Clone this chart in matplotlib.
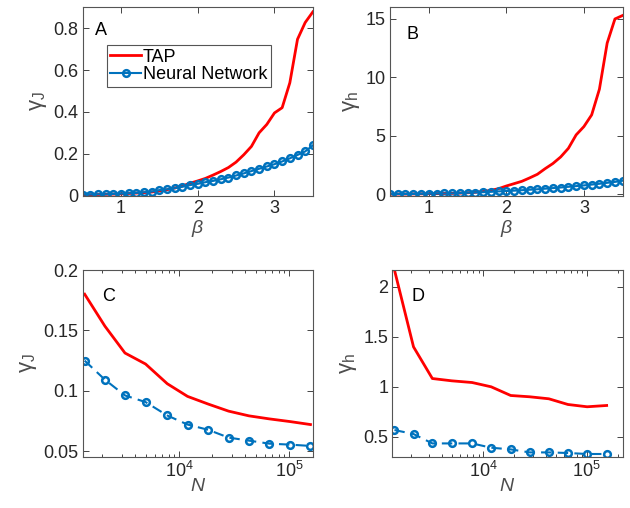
import numpy as np
import matplotlib
matplotlib.use('Agg')
import matplotlib.pyplot as plt
from matplotlib.ticker import LogLocator, NullFormatter

plt.rcParams['font.family'] = ['Liberation Sans', 'DejaVu Sans']
plt.rcParams['mathtext.fontset'] = 'custom'
plt.rcParams['mathtext.rm'] = 'Liberation Sans'
plt.rcParams['mathtext.it'] = 'Liberation Sans:italic'
plt.rcParams['mathtext.bf'] = 'Liberation Sans:bold'

# beta sweep (panels A, B)
beta = [0.5, 0.6, 0.7, 0.8, 0.9, 1.0, 1.1, 1.2, 1.3, 1.4, 1.5, 1.6, 1.7, 1.8, 1.9, 2.0,
        2.1, 2.2, 2.3, 2.4, 2.5, 2.6, 2.7, 2.8, 2.9, 3.0, 3.1, 3.2, 3.3, 3.4, 3.5]
tapJ_beta = [0.003, 0.004, 0.005, 0.006, 0.007, 0.008, 0.010, 0.012, 0.014, 0.017, 0.022,
             0.028, 0.036, 0.046, 0.059, 0.070, 0.082, 0.098, 0.115, 0.134, 0.160, 0.195,
             0.235, 0.300, 0.340, 0.395, 0.420, 0.539, 0.747, 0.827, 0.878]
nnJ_beta = [0.005, 0.005, 0.006, 0.006, 0.008, 0.009, 0.011, 0.013, 0.016, 0.019, 0.026,
            0.030, 0.035, 0.042, 0.050, 0.056, 0.064, 0.070, 0.078, 0.086, 0.096, 0.106,
            0.117, 0.128, 0.139, 0.150, 0.163, 0.178, 0.194, 0.211, 0.240]
tapH_beta = [0.02, 0.03, 0.03, 0.04, 0.05, 0.06, 0.07, 0.08, 0.09, 0.11, 0.14, 0.18, 0.25,
             0.35, 0.49, 0.72, 0.92, 1.12, 1.41, 1.72, 2.2, 2.64, 3.2, 3.94, 5.09, 5.8, 6.8,
             9.0, 12.94, 15.0, 15.3]
nnH_beta = [0.02, 0.03, 0.03, 0.04, 0.05, 0.06, 0.07, 0.08, 0.09, 0.11, 0.14, 0.16, 0.19,
            0.22, 0.26, 0.29, 0.32, 0.36, 0.40, 0.44, 0.49, 0.54, 0.59, 0.65, 0.71, 0.77,
            0.84, 0.91, 0.99, 1.07, 1.17]

# system size sweep (panels C, D)
N = [1380, 2110, 3210, 4940, 7780, 11900, 18400, 28100, 43000, 65800, 101000, 156000]
tapJ_N = [0.180, 0.1535, 0.1313, 0.1222, 0.1059, 0.0954, 0.089, 0.0832, 0.0793, 0.0768,
          0.0746, 0.0721]
nnJ_N = [0.125, 0.1092, 0.0962, 0.0907, 0.0796, 0.0721, 0.0677, 0.0613, 0.0588, 0.0563,
         0.0555, 0.0544]
tapH_N = [2.17, 1.40, 1.083, 1.06, 1.043, 1.0, 0.913, 0.90, 0.88, 0.823, 0.80, 0.813]
nnH_N = [0.567, 0.527, 0.433, 0.433, 0.433, 0.39, 0.373, 0.343, 0.343, 0.337, 0.327, 0.327]

red = '#FF0000'
blue = '#0072BD'
txt = '#262626'
lab = '#4d4d4d'
fs = 13

fig = plt.figure(figsize=(6.3, 5.08), dpi=100)
axA = fig.add_axes([0.131, 0.615, 0.3656, 0.3707])
axB = fig.add_axes([0.619, 0.615, 0.3694, 0.3707])
axC = fig.add_axes([0.131, 0.101, 0.3656, 0.3675])
axD = fig.add_axes([0.6227, 0.101, 0.3657, 0.3675])

mk = dict(marker='o', markersize=4.8, markeredgewidth=1.8, markerfacecolor='none')

axA.plot(beta, tapJ_beta, color=red, lw=2, label='TAP')
axA.plot(beta, nnJ_beta, color=blue, lw=1.5, label='Neural Network', **mk)
axB.plot(beta, tapH_beta, color=red, lw=2)
axB.plot(beta, nnH_beta, color=blue, lw=1.5, **mk)
axC.plot(N, tapJ_N, color=red, lw=2)
axC.plot(N, nnJ_N, color=blue, lw=1.5, ls='--', dashes=(5, 3), **mk)
axD.plot(N, tapH_N, color=red, lw=2)
axD.plot(N, nnH_N, color=blue, lw=1.5, ls='--', dashes=(5, 3), **mk)

for ax in [axA, axB]:
    ax.set_xlim(0.5, 3.5)
    ax.set_xticks([1, 2, 3])
    ax.set_xticklabels(['1', '2', '3'])
    ax.set_xlabel(r'$\beta$', fontsize=fs + 1, color=lab, labelpad=1)

axA.set_ylim(0, 0.9)
axA.set_yticks([0, 0.2, 0.4, 0.6, 0.8])
axA.set_yticklabels(['0', '0.2', '0.4', '0.6', '0.8'])
axB.set_ylim(-0.1, 16)
axB.set_yticks([0, 5, 10, 15])
axB.set_yticklabels(['0', '5', '10', '15'])

axC.set_xscale('log')
axD.set_xscale('log')
axC.set_xlim(1320, 164000)
axD.set_xlim(1315, 223000)
axC.set_ylim(0.0455, 0.2)
axC.set_yticks([0.05, 0.1, 0.15, 0.2])
axC.set_yticklabels(['0.05', '0.1', '0.15', '0.2'])
axD.set_ylim(0.3, 2.17)
axD.set_yticks([0.5, 1, 1.5, 2])
axD.set_yticklabels(['0.5', '1', '1.5', '2'])
for ax in [axC, axD]:
    ax.xaxis.set_major_locator(LogLocator(base=10, numticks=10))
    ax.xaxis.set_minor_locator(LogLocator(base=10, subs=np.arange(2, 10), numticks=20))
    ax.xaxis.set_minor_formatter(NullFormatter())
    ax.set_xlabel(r'$N$', fontsize=fs + 1, color=lab, labelpad=-2)

axA.set_ylabel(r'$\mathrm{\gamma}_{\mathrm{J}}$', fontsize=fs + 3, color=lab, labelpad=3)
axB.set_ylabel(r'$\mathrm{\gamma}_{\mathrm{h}}$', fontsize=fs + 3, color=lab, labelpad=3)
axC.set_ylabel(r'$\mathrm{\gamma}_{\mathrm{J}}$', fontsize=fs + 3, color=lab, labelpad=3)
axD.set_ylabel(r'$\mathrm{\gamma}_{\mathrm{h}}$', fontsize=fs + 3, color=lab, labelpad=3)

letters = [(axA, 'A', 0.053, 0.92), (axB, 'B', 0.069, 0.90),
           (axC, 'C', 0.084, 0.905), (axD, 'D', 0.085, 0.905)]
for ax, s, x, y in letters:
    ax.text(x, y, s, transform=ax.transAxes, ha='left', va='top', fontsize=fs, color='k')

for ax in [axA, axB, axC, axD]:
    ax.tick_params(which='both', direction='in', top=True, right=True,
                   labelsize=fs, colors=txt, width=0.6, pad=3)
    ax.tick_params(which='major', length=4)
    ax.tick_params(which='minor', length=2)
    for sp in ax.spines.values():
        sp.set_color('#555555')
        sp.set_linewidth(0.8)

leg = axA.legend(loc='upper left', bbox_to_anchor=(0.105, 0.80), fontsize=fs,
                 frameon=True, fancybox=False, edgecolor='#555555', framealpha=1,
                 handlelength=1.7, handletextpad=0.1, borderpad=0.2, labelspacing=0.05,
                 borderaxespad=0)
leg.get_frame().set_linewidth(0.8)
for t in leg.get_texts():
    t.set_color('k')

fig.savefig('out.png', dpi=100)
